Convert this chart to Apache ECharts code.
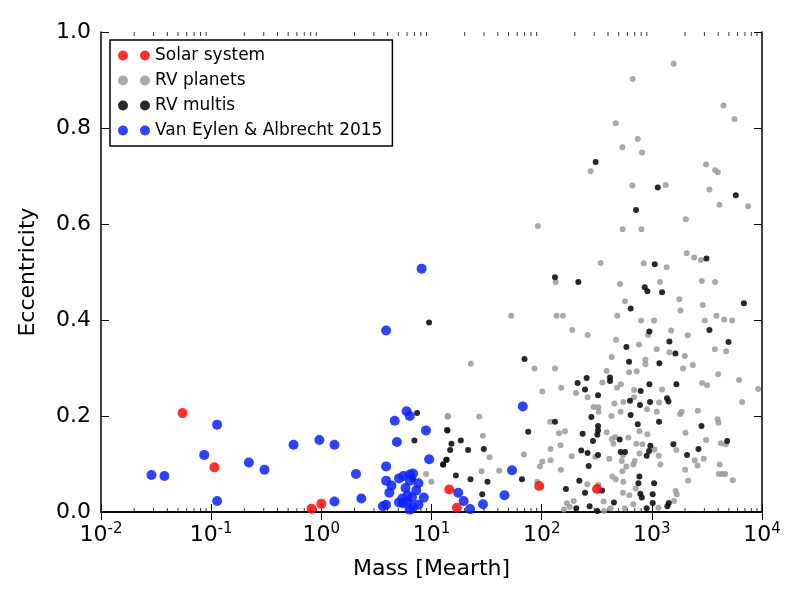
<!DOCTYPE html>
<html>
<head>
<meta charset="utf-8">
<script src="https://cdn.jsdelivr.net/npm/echarts@6/dist/echarts.min.js"></script>
<style>body{margin:0;background:#fff}#chart{width:800px;height:600px}</style>
</head>
<body>
<div id="chart"></div>
<script>
// [mass in Mearth, eccentricity]
var solar = [[0.055,0.206],[0.815,0.007],[1,0.017],[0.107,0.093],[318,0.048],[95,0.054],[14.5,0.047],[17,0.009]];

// [log10 mass (first read-off scale), eccentricity]
var vanEylen = [[-1.68,0.077],[-1.56,0.075],[-1.19,0.119],[-1.07,0.182],[-1.07,0.023],[-0.775,0.103],[-0.63,0.088],
  [-0.36,0.14],[-0.12,0.15],[0.02,0.14],[0.02,0.022],[0.22,0.079],[0.27,0.028],[0.50,0.378],[0.83,0.507],[0.50,0.095],
  [0.58,0.19],[0.69,0.21],[0.72,0.2],[0.6,0.146],[0.87,0.17],[0.9,0.11],
  [0.5,0.065],[0.55,0.055],[0.53,0.04],[0.62,0.07],[0.66,0.075],[0.72,0.078],[0.75,0.08],[0.68,0.05],[0.7,0.035],
  [0.74,0.03],[0.7,0.02],[0.66,0.018],[0.62,0.02],[0.5,0.015],[0.47,0.012],[0.75,0.01],[0.72,0.005],[0.8,0.015],
  [0.85,0.03],[0.78,0.045],[0.8,0.06],[0.72,0.065],[0.65,0.028],
  [1.77,0.22],[1.67,0.087],[1.6,0.035],[1.40,0.016],[1.17,0.04],[1.22,0.023],[1.28,0.006]];

var rvMultis = [[2.069,0.489],[2.286,0.479],[2.903,0.468],[2.927,0.46],[3.064,0.458],[3.824,0.435],[2.772,0.424],
  [2.946,0.376],[3.504,0.379],[3.132,0.355],[3.681,0.354],[2.732,0.344],[3.188,0.33],[1.786,0.319],[2.757,0.313],
  [3.039,0.31],[2.58,0.28],[2.58,0.273],[2.363,0.279],[2.279,0.269],[2.946,0.266],[3.197,0.266],[2.348,0.255],
  [2.865,0.252],[2.469,0.243],[2.766,0.232],[3.11,0.237],[3.123,0.23],[2.859,0.223],[2.952,0.229],[2.772,0.202],
  [2.407,0.198],[2.069,0.188],[3.036,0.188],[2.838,0.183],[2.469,0.179],[2.469,0.17],[2.462,0.161],[3.43,0.179],
  [1.82,0.167],[2.326,0.163],[1.07,0.17],[1.107,0.142],[1.194,0.149],[1.095,0.129],[1.262,0.129],[1.408,0.131],
  [2.422,0.148],[2.67,0.151],[3.169,0.141],[3.669,0.148],[2.313,0.128],[2.372,0.123],[2.469,0.119],[2.679,0.125],
  [2.72,0.125],[2.955,0.138],[2.943,0.127],[2.921,0.117],[3.402,0.131],[3.296,0.119],[1.061,0.109],[1.03,0.099],
  [2.382,0.096],[1.148,0.076],[1.284,0.068],[1.442,0.063],[1.762,0.068],[2.295,0.065],[2.853,0.074],[2.844,0.06],
  [2.99,0.06],[2.171,0.048],[2.348,0.04],[2.506,0.045],[1.393,0.037],[2.862,0.038],[2.875,0.03],[2.977,0.037],
  [2.977,0.019],[2.617,0.02],[3.126,0.019],[3.113,0.012],[2.391,0.012],[2.267,0.008],[2.921,0.008],[2.462,0.002],
  [0.788,0.206],[0.763,0.149],[0.899,0.395],[0.75,0.068],[1.067,0.171],[1.06,0.109],[1.03,0.099],
  [2.447,0.729],[3.024,0.676],[2.822,0.629],[3.749,0.66],[2.996,0.516],[3.476,0.528]];

var rvPlanets = [[3.172,0.934],[2.791,0.902],[3.634,0.847],[3.737,0.819],[2.633,0.81],[2.838,0.777],[2.695,0.76],
  [2.878,0.749],[2.4,0.71],[3.473,0.724],[3.557,0.712],[3.582,0.708],[2.788,0.68],[3.098,0.681],[3.504,0.672],
  [3.597,0.64],[3.864,0.637],[1.91,0.596],[3.284,0.61],[2.698,0.589],[2.872,0.589],[3.293,0.539],[3.362,0.53],
  [3.424,0.525],[2.493,0.519],[2.893,0.518],[3.107,0.51],
  [2.075,0.479],[2.673,0.475],[3.045,0.479],[3.433,0.481],[3.557,0.479],[2.72,0.439],[3.225,0.443],[3.235,0.42],
  [1.662,0.409],[2.084,0.409],[2.143,0.409],[2.648,0.409],[3.442,0.431],[3.569,0.409],[2.869,0.399],[2.989,0.399],
  [3.461,0.399],[3.641,0.401],[3.715,0.399],[2.23,0.379],[2.372,0.369],[2.934,0.369],[3.148,0.378],[3.303,0.368],
  [2.636,0.359],[2.85,0.349],[3.014,0.339],[3.132,0.333],[3.554,0.339],[3.659,0.335],[2.596,0.323],[2.909,0.317],
  [2.909,0.308],[3.275,0.325],[1.287,0.309],[1.879,0.299],[2.069,0.299],[2.549,0.294],[2.757,0.291],[2.828,0.293],
  [3.259,0.299],[3.349,0.306],[3.585,0.287],[3.78,0.275],[2.509,0.27],[2.645,0.259],[2.682,0.266],[2.804,0.254],
  [3.064,0.255],[3.436,0.269],[3.482,0.264],[3.957,0.256],[1.951,0.251],[2.127,0.259],[2.264,0.248],[2.372,0.239],
  [2.704,0.229],[2.621,0.226],[2.804,0.239],[3.036,0.228],[3.808,0.229],[2.428,0.219],[2.472,0.218],[2.475,0.209],
  [2.679,0.209],[2.924,0.214],[3.231,0.204],[3.247,0.209],[1.073,0.199],[1.365,0.199],[2.025,0.188],[2.593,0.2],
  [3.014,0.209],[3.396,0.211],[3.579,0.193],[3.588,0.186],[2.106,0.164],[2.162,0.168],[2.549,0.166],[2.853,0.168],
  [2.927,0.162],[3.281,0.165],[1.399,0.159],[2.596,0.152],[2.627,0.156],[2.751,0.155],[3.473,0.15],[3.61,0.143],
  [3.656,0.141],[2.121,0.139],[2.028,0.131],[2.611,0.142],[2.825,0.142],[2.881,0.141],[2.993,0.13],[3.197,0.129],
  [1.461,0.114],[1.78,0.12],[1.951,0.105],[1.929,0.095],[2.028,0.108],[2.224,0.116],[2.444,0.115],[2.574,0.111],
  [2.701,0.118],[2.689,0.106],[2.81,0.106],[2.732,0.095],[2.797,0.099],[2.853,0.122],[3.033,0.117],[3.048,0.099],
  [3.368,0.108],[3.393,0.097],[3.451,0.111],[3.6,0.099],[3.65,0.079],[1.386,0.085],[1.551,0.086],[2.124,0.088],
  [2.602,0.074],[2.695,0.085],[3.278,0.088],[3.721,0.066],[3.591,0.079],[3.619,0.079],[1.904,0.063],[2.369,0.058],
  [2.472,0.057],[2.633,0.068],[2.704,0.063],[3.306,0.065],[2.18,0.018],[2.205,0.011],[2.242,0.023],[2.521,0.022],
  [2.586,0.008],[2.701,0.04],[2.76,0.035],[2.819,0.049],[2.797,0.016],[3.191,0.044],[3.2,0.037],[3.176,0.023],
  [3.03,0.009],[2.717,0.008],[2.524,0.002],[2.152,0.005],[0.871,0.079],[0.921,0.063],[1.073,0.2]];

// read-off scale was a bit off, recalibrated against the tick marks
function toMass(list) {
    var out = [];
    for (var i = 0; i < list.length; i++) {
        out.push([Math.pow(10, 0.977 * list[i][0] + 0.0995), list[i][1]]);
    }
    return out;
}

// minor ticks of the log axis (2..9 in every decade)
var minorBottom = [], minorTop = [];
for (var d = -2; d < 4; d++) {
    for (var k = 2; k < 10; k++) {
        minorBottom.push([k * Math.pow(10, d), 0]);
        minorTop.push([k * Math.pow(10, d), 1]);
    }
}

var font = 'DejaVu Sans';
var twoDots = 'path://M0,5a5,5 0 1,0 10,0a5,5 0 1,0 -10,0M22,5a5,5 0 1,0 10,0a5,5 0 1,0 -10,0';

var chart = echarts.init(document.getElementById('chart'));
var logLabel = {
    fontFamily: font, fontSize: 22, color: '#000', margin: 10,
    formatter: function (v) { return '10{s|' + Math.round(Math.log10(v)) + '}'; },
    rich: { s: { fontFamily: font, fontSize: 15, verticalAlign: 'top', padding: [0, 0, 12, 0] } }
};
var tickStyle = { show: true, inside: true, length: 8, lineStyle: { color: '#000', width: 1 } };

chart.setOption({
    animation: false,
    grid: { left: 101, right: 38, top: 32, bottom: 88 },
    legend: {
        orient: 'vertical', left: 110, top: 40, itemGap: 8,
        itemWidth: 32, itemHeight: 10,
        borderColor: '#000', borderWidth: 1.5, borderRadius: 0, padding: [7, 10, 7, 8],
        textStyle: { fontFamily: font, fontSize: 17, color: '#000' },
        data: [
            { name: 'Solar system', icon: twoDots },
            { name: 'RV planets', icon: twoDots },
            { name: 'RV multis', icon: twoDots },
            { name: 'Van Eylen & Albrecht 2015', icon: twoDots }
        ]
    },
    xAxis: [{
        type: 'log', min: 0.01, max: 10000, logBase: 10,
        name: 'Mass [Mearth]', nameLocation: 'middle', nameGap: 46,
        nameTextStyle: { fontFamily: font, fontSize: 22, color: '#000' },
        axisLine: { lineStyle: { color: '#000', width: 1.5 } },
        axisTick: tickStyle,
        axisLabel: logLabel, splitLine: { show: false }
    }, {
        type: 'log', min: 0.01, max: 10000, logBase: 10, position: 'top',
        axisLine: { lineStyle: { color: '#000', width: 1.5 } },
        axisTick: tickStyle,
        axisLabel: { show: false }, splitLine: { show: false }
    }],
    yAxis: [{
        type: 'value', min: 0, max: 1, interval: 0.2,
        name: 'Eccentricity', nameLocation: 'middle', nameGap: 62,
        nameTextStyle: { fontFamily: font, fontSize: 22, color: '#000' },
        axisLine: { show: true, lineStyle: { color: '#000', width: 1.5 } },
        axisTick: tickStyle,
        axisLabel: { fontFamily: font, fontSize: 22, color: '#000', margin: 10,
            formatter: function (v) { return v.toFixed(1); } },
        splitLine: { show: false }
    }, {
        type: 'value', min: 0, max: 1, interval: 0.2, position: 'right',
        axisLine: { show: true, lineStyle: { color: '#000', width: 1.5 } },
        axisTick: tickStyle, axisLabel: { show: false }, splitLine: { show: false }
    }],
    series: [{
        name: 'minorBottom', type: 'scatter', silent: true, clip: false,
        symbol: 'rect', symbolSize: [1, 4], symbolOffset: [0, -2],
        itemStyle: { color: '#000' }, data: minorBottom
    }, {
        name: 'minorTop', type: 'scatter', silent: true, clip: false,
        symbol: 'rect', symbolSize: [1, 4], symbolOffset: [0, 2],
        itemStyle: { color: '#000' }, data: minorTop
    }, {
        name: 'RV planets', type: 'scatter', symbolSize: 6,
        itemStyle: { color: '#9a9a9a', opacity: 0.85 },
        data: toMass(rvPlanets)
    }, {
        name: 'RV multis', type: 'scatter', symbolSize: 6,
        itemStyle: { color: '#111', opacity: 0.9 },
        data: toMass(rvMultis)
    }, {
        name: 'Van Eylen & Albrecht 2015', type: 'scatter', symbolSize: 10,
        itemStyle: { color: '#0a22ff', opacity: 0.85 },
        data: toMass(vanEylen)
    }, {
        name: 'Solar system', type: 'scatter', symbolSize: 10,
        itemStyle: { color: '#ff0a0a', opacity: 0.85 },
        data: solar
    }]
});
</script>
</body>
</html>
